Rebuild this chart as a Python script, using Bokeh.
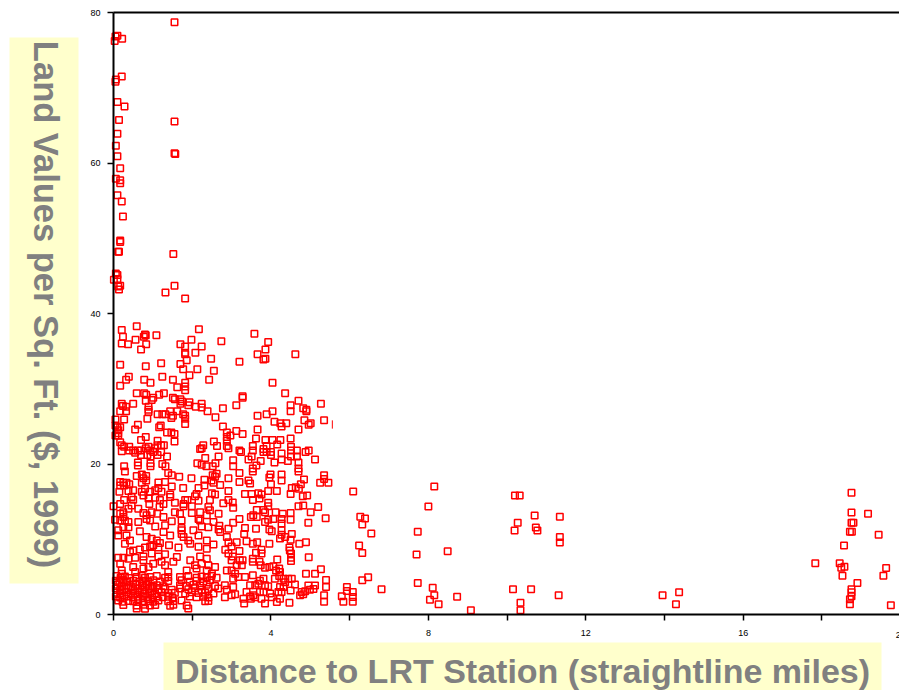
from bokeh.plotting import figure
from bokeh.models import Label, FixedTicker, Range1d
from bokeh.embed import file_html
from bokeh.resources import INLINE

y_title = "Land Values per Sq. Ft. ($, 1999)"
x_title = "Distance to LRT Station (straightline miles)"
x_ticks = [0, 2, 4, 6, 8, 10, 12, 14, 16, 18]
x_labels = {0: "0", 4: "4", 8: "8", 12: "12", 16: "16"}
y_ticks = [0, 20, 40, 60, 80]

upper = [(1.55,78.7),(.10,76.9),(.05,76.8),(.22,76.5),(.03,76.2),(.21,71.5),(.06,71.1),(.05,70.8),(.10,68.1),(.28,67.5),
(.14,65.7),(1.55,65.5),(.10,63.9),(.06,62.3),(1.55,61.3),(1.57,61.2),(.10,60.9),(.17,59.3),(.06,57.9),(.17,57.7),
(.17,57.3),(.10,55.7),(.21,54.9),(.24,52.9),(.17,49.7),(.17,49.5),(.12,48.2),(.14,48.2),(1.52,47.9),(.06,45.3),
(.10,45.1),(.10,44.6),(.01,44.5),(.17,43.7),(.12,43.6),(.14,43.2),(1.55,43.7),(1.32,42.8),(1.82,42.0)]

mid_left = [(2.17,37.9),(.21,37.8),(.59,38.3),(.24,36.9),(.80,37.2),(.82,37.1),(.77,36.9),(1.09,37.1),(.56,36.5),(.37,35.9),
(.21,36.0),(.83,35.9),(.70,35.2),(1.70,35.9),(1.82,35.6),(1.98,36.5),(2.24,35.6),(2.08,34.8),(1.82,34.8),(1.82,34.6),
(2.74,36.3),(2.48,34.0),(1.86,33.8),(.17,33.2),(.82,33.0),(1.21,33.4),(1.70,33.3),(1.77,32.6),(2.13,32.6),(2.55,32.4),
(1.93,31.8),(.39,31.6),(.32,31.2),(.78,31.2),(.94,30.8),(1.24,31.6),(1.51,31.2),(2.43,31.2),(.17,30.4),(1.82,30.8),
(1.82,30.3),(1.82,29.8),(1.62,30.2),(.59,29.4),(.78,29.4),(.83,29.2),(1.28,29.4),(1.16,29.2),(1.01,28.8),(.97,28.5),
(.82,28.4),(1.51,28.8),(1.56,28.6),(1.70,28.6),(1.74,28.3),(1.70,28.0),(.21,28.0),(.24,27.7),(.32,27.6),(.50,28.0),
(1.93,28.2),(1.90,27.8),(2.24,28.0),(2.24,27.5),(2.09,27.6),(2.78,27.4),(.89,27.6),(.89,27.2),(.89,26.9),(.17,27.0),
(.32,27.0),(2.39,27.0),(1.12,26.6),(1.32,26.6),(1.44,27.0),(1.62,27.0),(1.24,26.6),(1.47,26.1),(1.51,26.4),(1.82,26.4),
(1.77,26.6),(1.82,26.0),(.86,26.0),(2.59,26.2),(.05,25.9),(.27,25.9),(.05,25.1),(.10,24.9),(.17,24.9),(.12,24.5),
(.12,24.1),(.05,23.8),(.12,23.8),(.62,25.2),(.55,24.6),(1.20,25.1),(1.16,24.9),(1.82,25.3),(2.78,25.0),(1.36,24.2),
(1.47,24.2),(1.55,24.0),(2.88,24.2),(2.88,23.6),(2.88,23.1),(2.88,22.4),(2.92,22.1),(.82,23.6),(.70,23.2),(1.55,23.0),
(.17,22.9),(.21,22.5),(.27,22.3),(.21,21.7),(.40,22.3),(.40,21.8),(.50,21.8),(.55,21.5),(.62,21.8),(.70,21.8),
(.70,21.2),(.82,22.1),(.89,22.3),(.93,21.8),(1.01,21.6),(.86,21.2),(.94,21.0),(1.12,23.1),(1.12,22.5),(1.21,22.5),
(1.28,22.5),(1.05,22.1),(1.21,21.6),(1.12,21.2),(1.36,21.0),(2.55,23.0),(2.63,22.4),(2.28,22.5),(2.24,22.1),(2.20,22.0),
(2.67,21.0),(2.33,20.8),(2.13,20.1),(2.24,19.9),(2.36,19.7),(2.52,19.7),(2.59,20.1),(.27,19.7),(.62,20.2),(.62,19.8),
(.94,20.1),(.94,19.7),(1.24,20.0),(1.32,19.7)]

mid_right = [(3.58,37.3),(3.93,36.2),(3.86,35.2),(3.66,34.6),(4.62,34.6),(3.86,34.0),(3.81,33.9),(3.20,33.6),(4.04,30.8),(4.36,29.4),
(3.28,29.0),(3.28,28.8),(3.12,27.8),(4.70,28.4),(4.50,27.8),(4.50,27.0),(4.82,27.4),(4.90,27.2),(4.90,27.0),(5.27,28.0),
(4.04,27.0),(3.89,26.6),(3.66,26.4),(4.09,25.6),(4.24,25.4),(4.39,25.4),(4.27,25.0),(4.85,25.8),(5.01,25.4),(4.96,25.2),
(5.35,25.8),(4.70,24.6),(3.66,24.6),(3.12,24.4),(3.28,24.0),(2.97,23.8),(3.62,23.4),(3.86,23.2),(4.04,23.2),(4.24,23.2),
(4.50,23.4),(4.16,22.6),(3.89,22.4),(3.54,22.4),(3.54,21.8),(4.51,22.3),(4.51,21.8),(3.20,21.8),(3.24,21.6),(3.81,22.0),
(3.81,21.6),(3.89,21.6),(4.00,21.6),(4.66,21.8),(4.88,21.6),(4.96,21.8),(3.51,21.0),(3.43,20.6),(3.74,20.4),(4.00,21.2),
(4.27,21.4),(4.27,20.6),(4.43,20.4),(4.51,21.0),(4.66,21.0),(5.12,20.6),(4.70,20.2),(4.09,20.2),(3.63,19.8),(3.54,19.4),
(3.04,20.5),(3.04,19.7),(4.70,19.4)]

low_left = [(.29,19.0),(.59,18.4),(.72,18.6),(.83,18.4),(.76,18.1),(1.39,18.8),(1.48,18.5),(1.67,18.3),(1.98,18.1),(2.31,17.9),
(2.52,18.5),(2.58,18.3),(2.62,18.7),(2.49,17.8),(.17,17.6),(.25,17.5),(.33,17.5),(.17,17.15),(.27,17.15),(.40,17.3),
(1.14,17.55),(1.31,17.6),(.83,17.8),(.72,17.5),(1.48,17.0),(1.77,16.8),(2.16,16.8),(2.31,17.15),(2.54,17.5),(2.71,17.2),
(2.92,18.1),(.15,16.3),(.38,16.4),(.50,16.5),(.72,16.3),(.80,16.7),(.93,16.3),(1.06,16.5),(1.14,16.8),(1.22,16.3),
(1.44,15.95),(1.44,15.6),(2.11,16.0),(2.07,15.7),(2.50,16.1),(2.58,15.95),(2.92,16.4),(.0,14.4),(.17,14.7),(.27,15.2),
(.46,15.6),(.50,15.25),(.89,15.4),(.76,15.8),(1.06,15.5),(1.18,15.2),(1.27,14.7),(1.17,14.3),(1.56,14.85),(1.82,15.2),
(1.78,14.7),(1.88,15.2),(2.16,15.1),(2.45,15.2),(2.79,14.8),(2.92,15.2),(.25,13.6),(.46,14.5),(.91,14.7),(.63,14.05),
(.38,14.05),(.17,13.4),(.25,12.95),(.76,13.5),(.84,13.2),(.97,13.6),(1.11,13.4),(1.56,13.6),(1.69,13.4),(1.78,14.4),
(1.99,14.4),(1.99,13.5),(2.2,13.6),(2.41,14.3),(2.45,13.85),(2.67,13.4),(2.37,13.2),(2.16,12.7),(.04,12.6),(.17,12.5),
(.29,12.5),(.38,12.3),(.63,12.3),(.84,12.7),(.93,12.5),(1.27,12.95),(1.48,12.4),(1.73,12.5),(2.2,12.5),(2.54,12.3),
(2.69,11.8),(2.67,11.3),(2.92,11.4),(.12,11.2),(.25,11.6),(.38,11.6),(.67,11.05),(1.06,11.7),(1.31,11.85),(1.27,10.95),
(1.73,11.5),(1.73,11.2),(2.03,11.2),(2.24,11.7),(2.41,11.6),(2.71,10.95),(.12,10.5),(.33,10.5),(.42,9.85),(1.44,10.5),
(.84,10.3),(.97,10.05),(1.10,9.85),(1.18,9.5),(1.01,9.2),(1.73,10.7),(1.78,10.3),(2.16,10.5),(2.37,9.85),(2.54,9.3),
(2.88,10.3),(2.92,9.6),(.29,9.4),(.67,8.65),(.50,8.5),(.80,8.9),(.93,9.05),(1.14,8.9),(1.41,9.2),(1.65,8.9),
(1.90,9.85),(1.95,9.4),(2.16,9.0),(2.37,8.75),(2.84,8.6),(2.92,8.1),(.12,7.55),(.25,7.55),(.42,8.3),(.55,7.55),
(.76,7.7),(.97,8.1),(1.14,7.7),(1.31,8.0),(1.61,7.65),(2.2,7.7),(2.37,7.4),(.17,6.75),(.38,7.4),(.76,7.2),
(1.01,6.75),(1.22,7.0),(1.31,6.55),(1.52,7.0),(1.95,7.2),(2.07,6.55),(2.24,6.75),(2.41,6.55),(2.58,6.3),(.21,5.85),
(.21,5.4),(.50,6.3),(.55,5.65),(.76,6.1),(.89,6.3),(1.39,5.65),(1.39,5.0),(1.86,5.85),(2.11,6.1),(2.37,5.85),
(2.5,5.4),(2.88,5.85)]

dense = [(.08,5.1),(.18,4.9),(.29,5.05),(.40,4.85),(.59,5.0),(.72,5.15),(.80,4.9),(.93,5.0),(1.10,5.1),(1.31,4.9),
(1.69,5.0),(1.90,5.1),(2.11,4.9),(2.24,5.05),(2.37,4.95),(2.49,5.1),(2.62,4.9),
(.06,4.5),(.15,4.35),(.25,4.55),(.35,4.4),(.50,4.5),(.66,4.35),(.76,4.5),(.89,4.4),(1.01,4.55),(1.18,4.4),
(1.39,4.45),(1.73,4.55),(1.94,4.35),(2.11,4.5),(2.28,4.4),(2.45,4.55),
(.10,3.95),(.21,3.8),(.32,3.9),(.44,3.75),(.57,3.95),(.72,3.85),(.84,3.95),(.97,3.8),(1.10,3.9),(1.27,3.75),
(1.69,3.9),(1.84,3.8),(2.03,3.95),(2.2,3.85),(2.37,3.95),(2.58,3.8),(2.83,3.9),
(.06,3.45),(.17,3.3),(.27,3.4),(.38,3.5),(.50,3.35),(.63,3.45),(.76,3.3),(.89,3.4),(1.01,3.5),(1.14,3.35),
(1.31,3.4),(1.48,3.3),(1.69,3.45),(1.90,3.35),(2.07,3.5),(2.24,3.3),(2.41,3.4),(2.66,3.45),(2.88,3.3),
(.08,2.9),(.18,2.8),(.32,2.95),(.44,2.8),(.55,2.85),(.67,2.95),(.80,2.8),(.93,2.9),(1.05,2.8),(1.22,2.95),
(1.39,2.85),(1.56,2.9),(1.82,2.8),(1.99,2.95),(2.16,2.85),(2.33,2.9),(2.54,2.8),
(.06,2.4),(.17,2.25),(.27,2.35),(.38,2.4),(.50,2.25),(.61,2.35),(.74,2.4),(.86,2.3),(.99,2.25),(1.11,2.4),
(1.25,2.3),(1.39,2.35),(1.50,2.25),(1.94,2.4),(2.11,2.3),(2.28,2.35),(2.41,2.25),(2.83,2.3),
(.12,1.85),(.23,1.7),(.38,1.8),(.50,1.75),(.63,1.85),(.76,1.75),(.89,1.8),(1.01,1.7),(1.14,1.85),(1.39,1.75),
(1.52,1.8),(1.73,1.85),(2.33,1.75),(2.41,1.8),
(.25,1.25),(.59,1.2),(.76,1.3),(.93,1.2),(1.06,1.25),(1.44,1.15),(1.52,1.3),(1.86,1.2),
(.59,.8),(.80,.75),(1.90,.8)]

low_right = [(3.20,18.8),(3.54,19.0),(3.99,18.6),(3.96,18.2),(4.27,18.6),(4.27,17.8),(4.70,19.0),(4.84,17.95),(5.35,18.5),(5.35,18.0),
(5.25,17.5),(5.46,17.5),(3.43,17.8),(3.47,17.4),(3.20,17.6),(4.0,17.3),(4.53,16.8),(4.63,16.9),(4.76,17.3),(4.71,16.7),
(3.34,16.0),(3.51,16.0),(3.68,16.1),(3.76,15.95),(3.93,16.4),(4.15,16.4),(4.5,16.0),(4.81,15.7),(4.92,15.8),(3.54,15.2),
(3.71,15.4),(3.03,14.9),(3.93,14.85),(3.93,14.4),(4.70,14.4),(4.82,14.5),(5.20,14.3),(5.01,13.6),(3.04,14.2),(3.64,13.9),
(3.81,13.9),(3.85,13.6),(4.12,13.6),(4.30,13.4),(4.5,13.5),(3.55,13.2),(3.64,12.95),(3.49,12.95),(3.2,12.7),(4.06,12.7),
(3.93,12.6),(4.27,12.7),(4.5,12.6),(5.39,12.8),(3.04,12.2),(3.85,12.3),(4.27,12.1),(4.95,12.2),(3.62,11.4),(3.34,11.5),
(3.96,11.3),(4.02,11.05),(4.27,11.2),(3.32,10.7),(4.27,10.6),(4.53,10.7),(4.5,9.95),(4.23,10.1),(4.36,10.3),(3.13,9.6),
(3.38,9.75),(3.54,9.4),(3.65,9.6),(3.96,9.4),(4.72,9.4),(4.89,9.6),(4.47,8.9),(4.48,8.5),(3.0,9.05),(3.2,8.45),
(3.62,8.2),(3.76,8.6),(3.76,8.1),(4.51,8.1),(4.51,7.55),(4.51,7.1),(4.96,7.6),(3.03,7.7),(3.21,7.2),(3.28,7.2),
(3.54,7.4),(3.54,7.0),(3.71,7.0),(4.16,7.3),(3.0,7.2),(3.13,6.55),(3.26,6.55),(3.74,6.55),(3.85,6.2),(3.96,6.3),
(4.06,6.4),(4.21,6.1),(4.13,5.85),(4.23,5.65),(4.21,5.1),(5.27,6.0),(4.89,5.4),(5.12,5.4),(3.0,5.85),(3.09,5.4),
(3.17,5.0),(3.04,4.75),(3.34,5.0),(3.54,5.2),(4.10,4.75),(4.32,4.75),(4.44,4.75),(4.53,4.75),(4.36,4.3),(4.61,4.0),
(5.40,4.6),(5.40,3.65),(3.47,3.9),(3.72,4.5),(3.81,4.75),(3.68,4.1),(3.6,3.9),(3.85,3.9),(3.93,3.75),(4.23,3.65),
(4.32,3.65),(4.95,3.85),(5.12,3.85),(5.08,3.4),(3.04,3.65),(3.38,3.0),(3.55,2.55),(3.47,2.4),(3.72,3.0),(3.81,3.0),
(3.98,2.8),(4.19,3.0),(4.27,3.0),(4.5,3.2),(4.78,3.0),(4.87,3.1),(4.99,3.3),(4.74,2.55),(4.82,2.7),(5.35,2.55),
(5.35,1.7),(3.30,2.1),(3.32,1.45),(3.49,2.1),(3.6,2.3),(3.76,2.1),(3.85,1.45),(4.02,2.3),(4.15,1.65),(4.23,2.1),
(4.47,1.55),(3.09,2.7),(3.0,2.55)]

far_a = [(6.09,16.35),(8.15,17.0),(8.00,14.36),(10.20,15.82),(10.32,15.82),(10.70,13.17),(11.34,13.0),(6.27,13.0),(6.39,12.77),(6.32,11.97),
(6.55,10.78),(7.73,11.0),(10.27,12.2),(10.19,11.17),(10.73,11.57),(10.77,11.17),(11.34,10.29),(11.34,9.58),(6.24,9.18),(6.32,8.17),
(7.70,7.99),(8.49,8.39),(6.47,4.94),(6.32,4.54),(5.93,3.65),(5.93,3.12),(6.08,3.0),(6.08,2.33),(6.08,1.71),(5.84,1.71),
(5.80,2.41),(6.81,3.34),(7.73,4.18),(8.11,3.56),(8.15,2.55),(8.04,1.97),(8.26,1.35),(8.73,2.37),(9.08,.56),(10.15,3.34),
(10.61,3.34),(10.34,1.57),(10.34,.56),(11.31,2.55)]

far_b = [(13.95,2.55),(14.37,2.95),(14.29,1.35),(17.83,6.8),(18.75,16.17),(18.75,13.56),(19.17,13.4),(18.75,12.19),(18.8,12.19),(18.71,11.0),
(18.76,11.0),(19.44,10.6),(18.56,9.18),(18.45,6.8),(18.57,6.35),(18.49,6.22),(18.52,5.16),(19.63,6.18),(19.56,5.16),(18.90,4.18),
(18.75,3.34),(18.75,2.95),(18.75,2.41),(18.71,2.02),(18.71,1.35),(19.75,1.22)]

all_points = upper + mid_left + mid_right + low_left + dense + low_right + far_a + far_b
distance = [pt[0] for pt in all_points]
land_value = [pt[1] for pt in all_points]

W, H = 899, 690
PX_X, PX_Y = 39.36, 7.525
X0, Y0 = 113, 614  # page pixels of the data origin


def dx(px):
    return (px - X0) / PX_X


def dy(py):
    return (Y0 - py) / PX_Y


# The plot area fills the page so the titles and their boxes can sit around the axes.
p = figure(width=W, height=H, output_backend="svg", toolbar_location=None,
           x_range=Range1d(dx(0), dx(W)), y_range=Range1d(dy(H), dy(0)),
           min_border_left=0, min_border_right=0, min_border_top=0, min_border_bottom=0)
p.outline_line_color = None
p.grid.visible = False
p.background_fill_color = "white"
p.border_fill_color = "white"

for ax in (p.xaxis[0], p.yaxis[0]):
    ax.fixed_location = 0
    ax.axis_line_color = "black"
    ax.axis_line_width = 2
    ax.major_tick_line_color = "black"
    ax.major_tick_line_width = 1.5
    ax.minor_tick_line_color = None
    ax.major_tick_in = 0
    ax.major_tick_out = 6
    ax.major_label_text_font = "Liberation Sans"
    ax.major_label_text_font_size = "9px"
    ax.major_label_text_color = "black"

p.xaxis[0].bounds = (0, 20)
p.xaxis[0].ticker = FixedTicker(ticks=x_ticks)
p.xaxis[0].major_label_overrides = {t: x_labels.get(t, "") for t in x_ticks}
p.xaxis[0].major_label_standoff = 9
p.yaxis[0].bounds = (0, 80)
p.yaxis[0].ticker = FixedTicker(ticks=y_ticks)
p.yaxis[0].major_label_standoff = 7

p.line([0, 20], [80, 80], line_color="black", line_width=2)

YELLOW = "#ffffcc"
GREY = "#808080"
p.quad(left=[dx(9), dx(163)], right=[dx(78), dx(881)], bottom=[dy(583), dy(690)], top=[dy(37), dy(642)],
       fill_color=YELLOW, line_color=None)

p.scatter(distance, land_value, marker="square", size=6.5, fill_color=None,
          line_color="#ff0000", line_width=1.5)
# the one mark that the source shows cut down to a sliver
p.line([5.56, 5.56], [24.7, 25.8], line_color="#ff0000", line_width=1)

# final tick label, cut by the right edge of the page as in the source
p.add_layout(Label(x=20, y=dy(634), text="20", text_font="Liberation Sans",
                   text_font_size="9px", text_align="center", text_baseline="middle", text_color="black"))
p.add_layout(Label(x=dx(45), y=dy(304), text=y_title, angle=-90, angle_units="deg",
                   text_font="Liberation Sans", text_font_style="bold", text_font_size="34.5px",
                   text_color=GREY, text_align="center", text_baseline="middle"))
p.add_layout(Label(x=dx(522), y=dy(670), text=x_title,
                   text_font="Liberation Sans", text_font_style="bold", text_font_size="34px",
                   text_color=GREY, text_align="center", text_baseline="middle"))

open("out.html", "w").write(file_html(p, INLINE))
